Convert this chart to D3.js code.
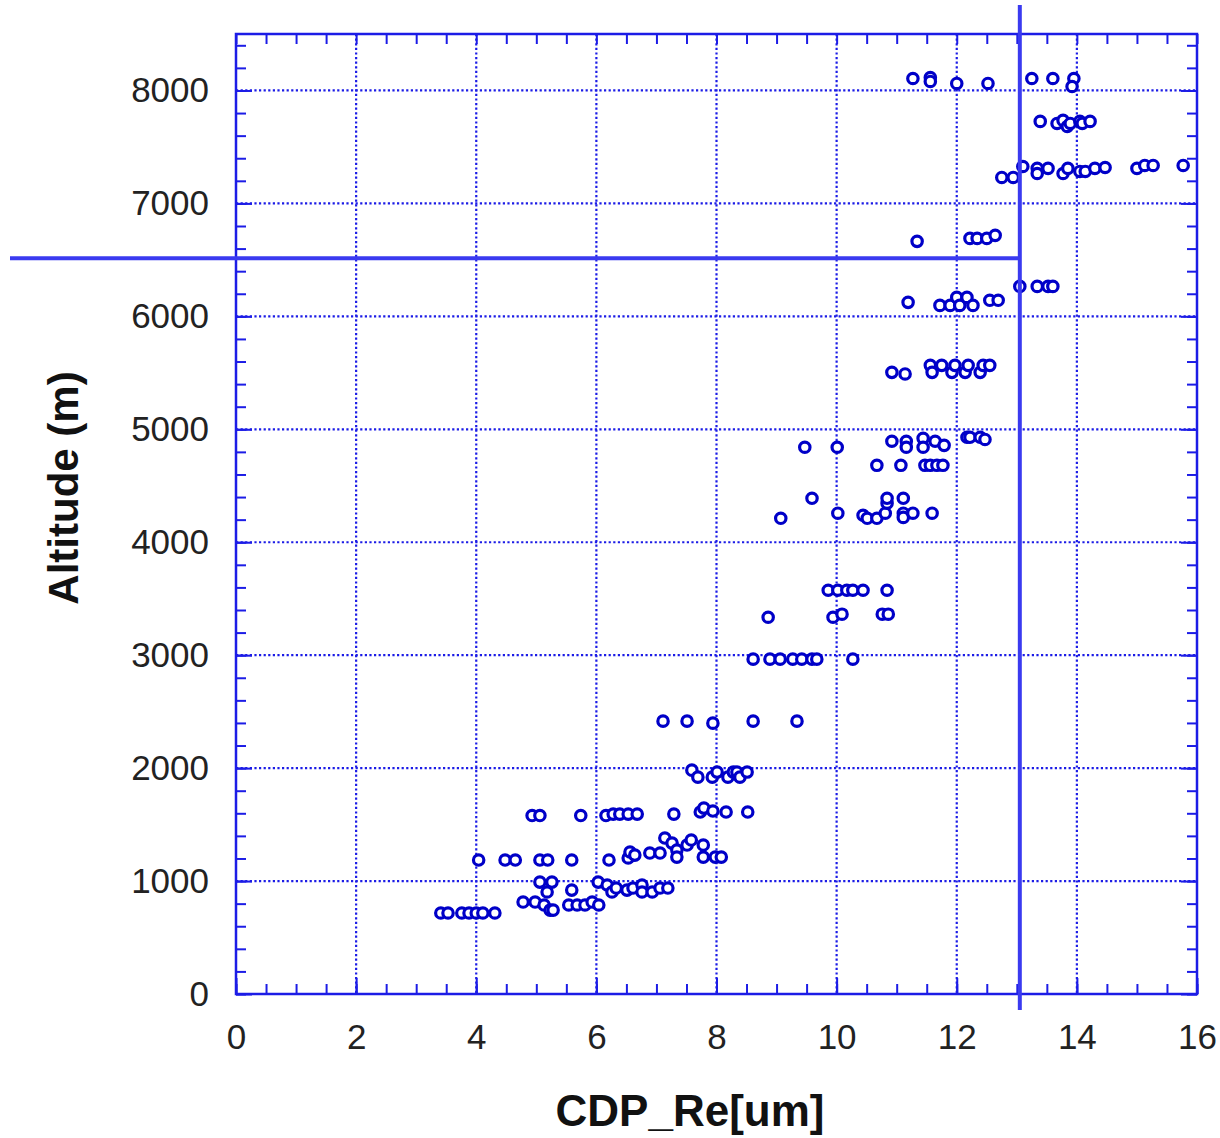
<!DOCTYPE html>
<html>
<head>
<meta charset="utf-8">
<script src="https://cdn.jsdelivr.net/npm/d3@7"></script>
<style>
body { margin: 0; background: #fff; }
text { font-family: "Liberation Sans", Arial, sans-serif; }
</style>
</head>
<body>
<script>
// Re (um) vs altitude (m), grouped by flight level
var lowLevel = [
  [3.41,717],[3.53,717],[3.76,717],[3.88,717],[4.00,717],[4.11,717],[4.31,717],
  [4.78,814],[4.98,814],[5.13,788],[5.23,743],[5.28,743],[5.18,903],[5.06,991],[5.26,991],
  [5.54,788],[5.59,920],[5.68,788],[5.81,788],[5.93,814],[6.04,788],
  [6.03,991],[6.18,965],[6.26,903],[6.33,938],[6.51,920],[6.61,938],[6.76,965],
  [6.76,903],[6.93,903],[7.06,938],[7.19,938]
];
var level1200 = [
  [4.04,1186],[4.48,1186],[4.65,1186],[5.06,1186],[5.19,1186],[5.59,1186],[6.21,1186],
  [6.53,1204],[6.56,1257],[6.64,1230],[6.89,1248],[7.06,1248],[7.14,1381],[7.26,1336],
  [7.34,1274],[7.34,1212],[7.51,1319],[7.58,1363],[7.78,1319],[7.78,1212],[7.98,1212],[8.08,1212]
];
var level1600 = [
  [4.93,1580],[5.06,1580],[5.74,1580],[6.16,1580],[6.28,1593],[6.39,1593],[6.53,1593],
  [6.68,1593],[7.29,1593],[7.73,1611],[7.79,1646],[7.94,1620],[8.16,1611],[8.52,1611]
];
var level1950 = [
  [7.59,1982],[7.69,1920],[7.93,1920],[8.01,1965],[8.19,1920],[8.28,1965],[8.34,1965],[8.39,1920],[8.51,1965]
];
var level2400 = [[7.11,2416],[7.51,2416],[7.94,2398],[8.61,2416],[9.34,2416]];
var level3000 = [[8.61,2965],[8.89,2965],[9.06,2965],[9.27,2965],[9.42,2965],[9.59,2965],[9.67,2965],[10.27,2965]];
var level3400 = [[8.86,3336],[9.94,3336],[10.09,3363],[10.76,3363],[10.86,3363]];
var level3600 = [[9.86,3575],[10.02,3575],[10.17,3575],[10.27,3575],[10.44,3575],[10.84,3575]];
var level4300 = [
  [9.07,4212],[10.02,4257],[10.44,4239],[10.51,4212],[10.67,4212],[10.81,4257],[11.11,4257],
  [11.11,4220],[11.27,4257],[11.59,4257],[10.84,4345],[9.59,4389],[10.84,4389],[11.11,4389]
];
var level4700 = [[10.67,4681],[11.07,4681],[11.47,4681],[11.56,4681],[11.67,4681],[11.77,4681]];
var level4900 = [
  [9.47,4841],[10.01,4841],[10.92,4894],[11.16,4894],[11.16,4841],[11.44,4920],[11.44,4841],
  [11.64,4894],[11.79,4858],[12.17,4929],[12.22,4929],[12.39,4929],[12.47,4910]
];
var level5500 = [
  [10.92,5504],[11.14,5490],[11.56,5566],[11.59,5504],[11.75,5566],[11.92,5504],[11.97,5566],
  [12.14,5504],[12.19,5566],[12.39,5504],[12.44,5566],[12.55,5566]
];
var level6100 = [
  [11.19,6124],[11.72,6097],[11.89,6097],[12.00,6168],[12.05,6097],[12.17,6168],[12.27,6097],
  [12.55,6142],[12.69,6142],[13.05,6265],[13.34,6265],[13.52,6265],[13.60,6265]
];
var level6700 = [[11.34,6664],[12.22,6690],[12.34,6690],[12.50,6690],[12.64,6717]];
var level7300 = [
  [12.75,7230],[12.94,7230],[13.10,7327],[13.34,7310],[13.34,7265],[13.52,7310],[13.77,7265],
  [13.85,7310],[14.05,7283],[14.14,7283],[14.30,7310],[14.47,7318],[15.00,7310],[15.13,7336],
  [15.27,7336],[15.77,7336]
];
var level7700 = [[13.39,7726],[13.67,7708],[13.77,7735],[13.84,7681],[13.89,7708],[14.05,7726],[14.09,7708],[14.22,7726]];
var level8100 = [[11.27,8106],[11.56,8115],[11.56,8080],[12.00,8062],[12.52,8062],[13.25,8106],[13.60,8106],[13.95,8106],[13.92,8035]];

var xTicks = [0,2,4,6,8,10,12,14,16];
var yTicks = [0,1000,2000,3000,4000,5000,6000,7000,8000];
var refRe = 13.05;
var refAlt = 6515;

var allPoints = [].concat(lowLevel, level1200, level1600, level1950, level2400, level3000,
  level3400, level3600, level4300, level4700, level4900, level5500, level6100, level6700,
  level7300, level7700, level8100);

var plotLeft = 236, plotRight = 1197, plotTop = 34, plotBottom = 994;

var svg = d3.select("body").append("svg")
  .attr("width", 1220)
  .attr("height", 1138);

var x = d3.scaleLinear().domain([0, 16]).range([plotLeft, plotRight]);
var y = d3.scaleLinear().domain([0, 8500]).range([plotBottom, plotTop]);

var blue = "#1c1ce6";

// dotted grid
svg.append("g").selectAll("line")
  .data(xTicks.slice(1, -1))
  .enter().append("line")
    .attr("x1", function(d){ return x(d); })
    .attr("x2", function(d){ return x(d); })
    .attr("y1", plotTop).attr("y2", plotBottom)
    .attr("stroke", blue).attr("stroke-width", 2.2)
    .attr("stroke-dasharray", "2.2,2.4");
svg.append("g").selectAll("line")
  .data(yTicks.slice(1))
  .enter().append("line")
    .attr("y1", function(d){ return y(d); })
    .attr("y2", function(d){ return y(d); })
    .attr("x1", plotLeft).attr("x2", plotRight)
    .attr("stroke", blue).attr("stroke-width", 2.2)
    .attr("stroke-dasharray", "2.2,2.4");

// axes with inward ticks on all four sides
var xMinor = d3.range(0, 16.01, 0.5);
var yMinor = d3.range(0, 8501, 200);

function styleAxis(g) {
  g.select(".domain").remove();
  g.selectAll("line").attr("stroke", blue).attr("stroke-width", 2);
  g.selectAll("text").attr("fill", "#222").attr("font-size", 35);
}

svg.append("g").attr("transform", "translate(0," + plotBottom + ")")
  .call(d3.axisBottom(x).tickValues(xMinor).tickSize(-10).tickFormat(""))
  .call(styleAxis);
svg.append("g").attr("transform", "translate(0," + plotBottom + ")")
  .call(d3.axisBottom(x).tickValues(xTicks).tickSize(-16).tickPadding(30).tickFormat(d3.format("d")))
  .call(styleAxis);
svg.append("g").attr("transform", "translate(0," + plotTop + ")")
  .call(d3.axisTop(x).tickValues(xMinor).tickSize(-10).tickFormat(""))
  .call(styleAxis);
svg.append("g").attr("transform", "translate(" + plotLeft + ",0)")
  .call(d3.axisLeft(y).tickValues(yMinor).tickSize(-10).tickFormat(""))
  .call(styleAxis);
svg.append("g").attr("transform", "translate(" + plotLeft + ",0)")
  .call(d3.axisLeft(y).tickValues(yTicks).tickSize(-16).tickPadding(27).tickFormat(d3.format("d")))
  .call(styleAxis);
svg.append("g").attr("transform", "translate(" + plotRight + ",0)")
  .call(d3.axisRight(y).tickValues(yMinor).tickSize(-10).tickFormat(""))
  .call(styleAxis);
svg.append("g").attr("transform", "translate(" + plotRight + ",0)")
  .call(d3.axisRight(y).tickValues(yTicks).tickSize(-16).tickFormat(""))
  .call(styleAxis);

// frame
svg.append("rect")
  .attr("x", plotLeft).attr("y", plotTop)
  .attr("width", plotRight - plotLeft).attr("height", plotBottom - plotTop)
  .attr("fill", "none").attr("stroke", blue).attr("stroke-width", 2.5);

// data points
svg.append("g").selectAll("circle")
  .data(allPoints)
  .enter().append("circle")
    .attr("cx", function(d){ return x(d[0]); })
    .attr("cy", function(d){ return y(d[1]); })
    .attr("r", 5.2)
    .attr("fill", "white")
    .attr("stroke", "#0000c8")
    .attr("stroke-width", 3.2);

// reference cross lines
svg.append("line")
  .attr("x1", x(refRe)).attr("x2", x(refRe))
  .attr("y1", 5).attr("y2", 1010)
  .attr("stroke", "#3a3af0").attr("stroke-width", 4);
svg.append("line")
  .attr("x1", 10).attr("x2", x(refRe))
  .attr("y1", y(refAlt)).attr("y2", y(refAlt))
  .attr("stroke", "#3a3af0").attr("stroke-width", 4);

// axis titles
svg.append("text")
  .attr("x", 690).attr("y", 1126)
  .attr("text-anchor", "middle")
  .attr("font-size", 44).attr("font-weight", "bold").attr("fill", "#111")
  .text("CDP_Re[um]");
svg.append("text")
  .attr("transform", "translate(78,488) rotate(-90)")
  .attr("text-anchor", "middle")
  .attr("font-size", 42).attr("font-weight", "bold").attr("fill", "#111")
  .text("Altitude (m)");
</script>
</body>
</html>
